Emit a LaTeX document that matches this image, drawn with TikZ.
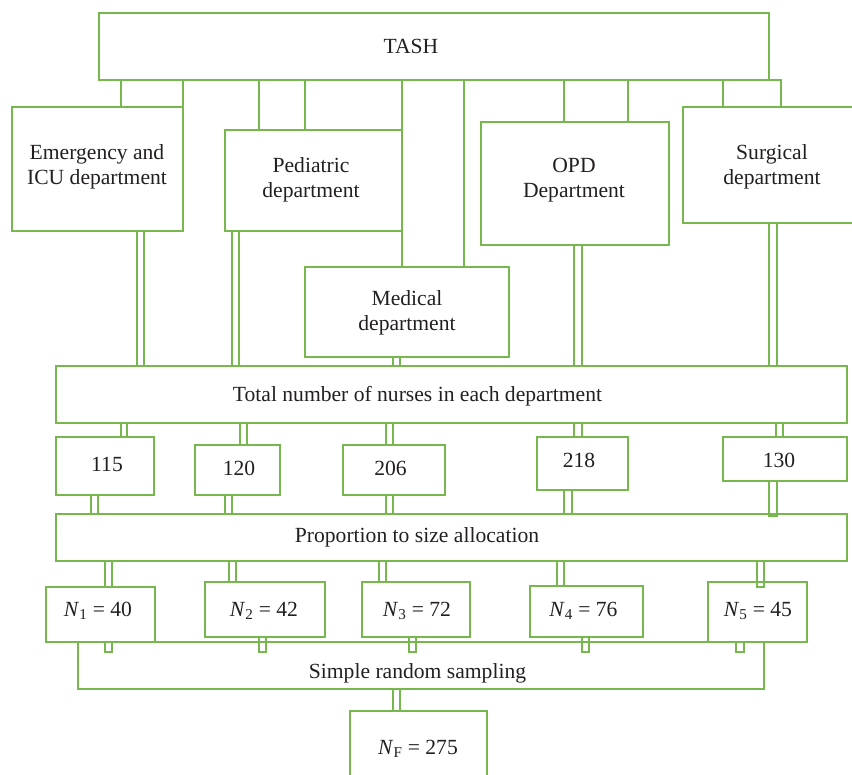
\documentclass[tikz,border=0pt]{standalone}
\usepackage{tikz}
\usepackage{fontspec}
\setmainfont{Liberation Serif}
\definecolor{grn}{RGB}{118,183,78}
\definecolor{ink}{RGB}{35,31,32}
\newcommand{\bx}[5]{\node[box, minimum width={(#4-#2)*1pt}, minimum height={(#5-#3)*1pt}] (#1) at ({(#2+#4)/2},{(#3+#5)/2}) {};}
\newcommand{\cn}[4]{\draw[cnline] (#1,0 |- #3) rectangle (#2,0 |- #4);}
\newcommand{\Nv}[2]{\textit{N}\textsubscript{#1} = #2}
\begin{document}
\begin{tikzpicture}[x=1pt,y=-1pt,
  box/.style={draw=grn, line width=1.3pt, inner sep=0pt, outer sep=0pt},
  cnline/.style={draw=grn, line width=1.3pt},
  txt/.style={text=ink, align=center, font=\fontsize{21.6}{25}\selectfont, inner sep=0pt}]
\useasboundingbox (0,0) rectangle (852,775);
\clip (0,0) rectangle (852,775);
% boxes
\bx{tash}{99}{13}{769}{80}
\bx{emerg}{12}{107}{183}{231}
\bx{ped}{225}{130}{402}{231}
\bx{med}{305}{267}{509}{357}
\bx{opd}{481}{122}{669}{245}
\bx{surg}{683}{107}{862}{223}
\bx{total}{56}{366}{847}{423}
\bx{c115}{56}{437}{154}{495}
\bx{c120}{195}{445}{280}{495}
\bx{c206}{343}{445}{445}{495}
\bx{c218}{537}{437}{628}{490}
\bx{c130}{723}{437}{847}{481}
\bx{prop}{56}{514}{847}{561}
\bx{n1}{46}{587}{155}{642}
\bx{n2}{205}{582}{325}{637}
\bx{n3}{362}{582}{470}{637}
\bx{n4}{530}{586}{643}{637}
\bx{n5}{708}{582}{807}{642}
\bx{srs}{78}{642}{764}{689}
\bx{nf}{350}{711}{487}{790}
\coordinate (tabline) at (0,652);
\coordinate (propline) at (0,516);
\coordinate (n5top) at (0,587);
% texts
\node[txt] (tash-t) at (411,46) {TASH};
\node[txt] (emerg-t) at (97,167) {Emergency and\\ICU department};
\node[txt] (ped-t) at (311,180) {Pediatric\\department};
\node[txt] (med-t) at (407,313) {Medical\\department};
\node[txt] (opd-t) at (574,180) {OPD\\Department};
\node[txt] (surg-t) at (772,167) {Surgical\\department};
\node[txt] (total-t) at (417.5,396) {Total number of nurses in each department};
\node[txt] (c115-t) at (107,464) {115};
\node[txt] (c120-t) at (239,468) {120};
\node[txt] (c206-t) at (390.5,468) {206};
\node[txt] (c218-t) at (579,460) {218};
\node[txt] (c130-t) at (779,460) {130};
\node[txt] (prop-t) at (417,537) {Proportion to size allocation};
\node[txt] (n1-t) at (98,611) {\Nv{1}{40}};
\node[txt] (n2-t) at (264,611) {\Nv{2}{42}};
\node[txt] (n3-t) at (417,611) {\Nv{3}{72}};
\node[txt] (n4-t) at (583.5,611) {\Nv{4}{76}};
\node[txt] (n5-t) at (758,611) {\Nv{5}{45}};
\node[txt] (srs-t) at (417.5,673) {Simple random sampling};
\node[txt] (nf-t) at (418,749) {\Nv{F}{275}};
% connectors
\cn{121}{183}{tash.south}{emerg.north}
\cn{259}{305}{tash.south}{ped.north}
\cn{402}{464}{tash.south}{med.north}
\cn{564}{628}{tash.south}{opd.north}
\cn{723}{781}{tash.south}{surg.north}
\cn{137}{144}{emerg.south}{total.north}
\cn{232}{239}{ped.south}{total.north}
\cn{393}{400}{med.south}{total.north}
\cn{574}{582}{opd.south}{total.north}
\cn{769}{777}{surg.south}{total.north}
\cn{121}{127}{total.south}{c115.north}
\cn{240}{247}{total.south}{c120.north}
\cn{386}{393}{total.south}{c206.north}
\cn{574}{582}{total.south}{c218.north}
\cn{776}{783}{total.south}{c130.north}
\cn{91}{98}{c115.south}{prop.north}
\cn{225}{232}{c120.south}{prop.north}
\cn{386}{393}{c206.south}{prop.north}
\cn{564}{572}{c218.south}{prop.north}
\cn{769}{777}{c130.south}{propline}
\cn{105}{112}{prop.south}{n1.north}
\cn{229}{236}{prop.south}{n2.north}
\cn{379}{386}{prop.south}{n3.north}
\cn{557}{564}{prop.south}{n4.north}
\cn{757}{764}{prop.south}{n5top}
\cn{105}{112}{n1.south}{tabline}
\cn{259}{266}{n2.south}{tabline}
\cn{409}{416}{n3.south}{tabline}
\cn{582}{589}{n4.south}{tabline}
\cn{736}{744}{n5.south}{tabline}
\cn{393}{400}{srs.south}{nf.north}
\end{tikzpicture}
\end{document}
